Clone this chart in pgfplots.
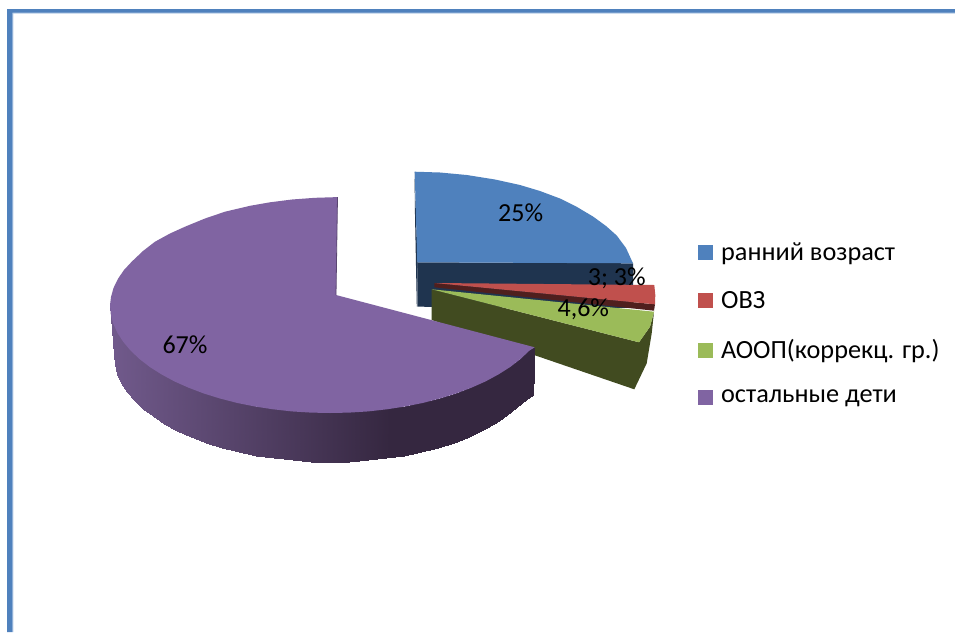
\documentclass[border=0pt]{standalone}
\usepackage{pgfplots}
\pgfplotsset{compat=1.18}
\usepackage{fontspec}
\setmainfont{Carlito}
\definecolor{cB}{HTML}{4F81BD}
\definecolor{cR}{HTML}{C0504D}
\definecolor{cG}{HTML}{9BBB59}
\definecolor{cP}{HTML}{8064A2}
\definecolor{dB}{HTML}{1F344F}
\definecolor{dR}{HTML}{4F1F1E}
\definecolor{dG}{HTML}{414B20}
\definecolor{fr}{HTML}{B4CBE6}
\begin{document}
\begin{tikzpicture}
\begin{axis}[
  scale only axis, width=716.25pt, height=474pt,
  xmin=0, xmax=955, ymin=0, ymax=632, y dir=reverse,
  hide axis, clip=true,
  colormap={purp}{rgb255(0)=(113,90,140) rgb255(280)=(53,39,64) rgb255(425)=(53,39,64)},
  point meta min=110, point meta max=535,
  legend style={at={(axis cs:698,323.5)}, anchor=west, draw=none, fill=none,
    font=\fontsize{19.7}{24}\selectfont, row sep=17.8pt, inner sep=0pt,
    /tikz/every odd column/.append style={column sep=3.9pt},
    /tikz/every even column/.append style={column sep=0pt}},
  legend cell align=left,
  legend image code/.code={\fill[#1] (0pt,-5.6pt) rectangle (11.25pt,5.6pt);},
]
% page background
\addplot[fill=white,draw=none,forget plot] coordinates {(0,0)(955,0)(955,632)(0,632)} --cycle;
% frame
\addplot[fill=fr,draw=none,forget plot] coordinates {(12,12)(955,12)(955,13.6)(13.4,13.6)(13.4,632)(12,632)} --cycle;
\addplot[fill=cB,draw=none,forget plot] coordinates {(7,9)(955,9)(955,12.5)(12.4,12.5)(12.4,632)(7,632)} --cycle;
% blue slice sides
\addplot[fill=dB,draw=none,forget plot] coordinates {(417.3,262.3)(633,263.3)(633,308)(417.3,306.7)} --cycle;
\addplot[fill=dB,draw=none,forget plot] coordinates {(414.5,172)(415,215)(416.8,306.7)(417.6,262)} --cycle;
% blue top
\addplot[fill=cB,draw=none] coordinates {(414.7,171.7)(440,172.5)(466.7,175)(495,179.5)(520,185)(540,191)(560,198.5)(577,207)(593.3,216.7)(606,226)(616.7,235.5)(626,248)(633,263.3)(417.3,262.3)} --cycle;
\addlegendentry{ранний возраст}
% red slice
\addplot[fill=dR,draw=none,forget plot] coordinates {(434.3,283)(655,304.3)(654,310.7)(434.3,287.3)} --cycle;
\addplot[fill=cR,draw=none] coordinates {(434.6,283)(654.3,285)(655.3,295)(655,304.3)} --cycle;
\addlegendentry{ОВЗ}
% green slice
\addplot[fill=dG,draw=none,forget plot] coordinates {(431.7,289.3)(639,342.3)(650,326.7)(654,311.7)(651.7,333.3)(646.7,363.3)(634.3,389.3)(431.7,320)} --cycle;
\addplot[fill=cG,draw=none] coordinates {(431.7,289.3)(654,311.7)(650,326.7)(639,342.3)} --cycle;
\addlegendentry{АООП(коррекц. гр.)}
% purple side, gradient
\addplot[surf,shader=interp,mesh/rows=2,point meta=x,forget plot] table {
x y
110 304
110.8 313.4
113.3 322.8
117.5 332
123.3 340.9
130.6 349.6
139.5 358
149.8 366
161.5 373.4
174.4 380.4
188.6 386.7
203.8 392.5
220 397.5
237 401.9
254.8 405.5
273.1 408.3
291.8 410.4
310.8 411.6
330 412
349.2 411.6
368.2 410.4
386.9 408.3
405.2 405.5
423 401.9
440 397.5
456.2 392.5
471.4 386.7
485.6 380.4
498.5 373.4
510.2 366
520.5 358
529.4 349.6
534.7 347.3
114 355
114.8 364.3
117.3 373.6
121.4 382.7
127 391.6
134.2 400.2
143 408.5
153 416.4
164.5 423.8
177.3 430.7
191.2 437
206.1 442.7
222 447.7
238.7 452
256.1 455.5
274.1 458.4
292.5 460.4
311.2 461.6
330 462
348.8 461.6
367.5 460.4
385.9 458.4
403.9 455.5
421.3 452
438 447.7
453.9 442.7
468.8 437
482.7 430.2
495.5 422.8
507 414.5
517 406.5
526 399.5
532.7 395
};
% purple top
\addplot[fill=cP,draw=none] coordinates {(337.5,197.1)(315,197.8)(292,199.5)(270,202.3)(250,205.8)(225,211.7)(205,218.5)(185,226.7)(170,233.5)(155,241.7)(143,251)(131.7,261.7)(124,270)(118.3,278.3)(113.5,288)(111,297)(110,305)(110.8,314.4)(113.3,323.8)(117.5,333)(123.3,341.9)(130.6,350.6)(139.5,359)(149.8,367)(161.5,374.4)(174.4,381.4)(188.6,387.7)(203.8,393.5)(220,398.5)(237,402.9)(254.8,406.5)(273.1,409.3)(291.8,411.4)(310.8,412.6)(330,413)(349.2,412.6)(368.2,411.4)(386.9,409.3)(405.2,406.5)(423,402.9)(440,398.5)(456.2,393.5)(471.4,387.7)(485.6,381.4)(498.5,374.4)(510.2,367)(520.5,359)(529.4,350.6)(534.7,347.3)(336,295)} --cycle;
\addlegendentry{остальные дети}
\addplot[draw=cP!70!black,line width=0.6pt,forget plot] coordinates {(337.5,197.1)(336,295)};
% data labels
\node[font=\fontsize{19.5}{24}\selectfont] at (axis cs:520.7,212.7) {25\%};
\node[font=\fontsize{19.5}{24}\selectfont] at (axis cs:616.7,278.3) {3; 3\%};
\node[font=\fontsize{19.5}{24}\selectfont] at (axis cs:583.3,309.3) {4,6\%};
\node[font=\fontsize{19.5}{24}\selectfont] at (axis cs:185,345) {67\%};
\end{axis}
\end{tikzpicture}
\end{document}
